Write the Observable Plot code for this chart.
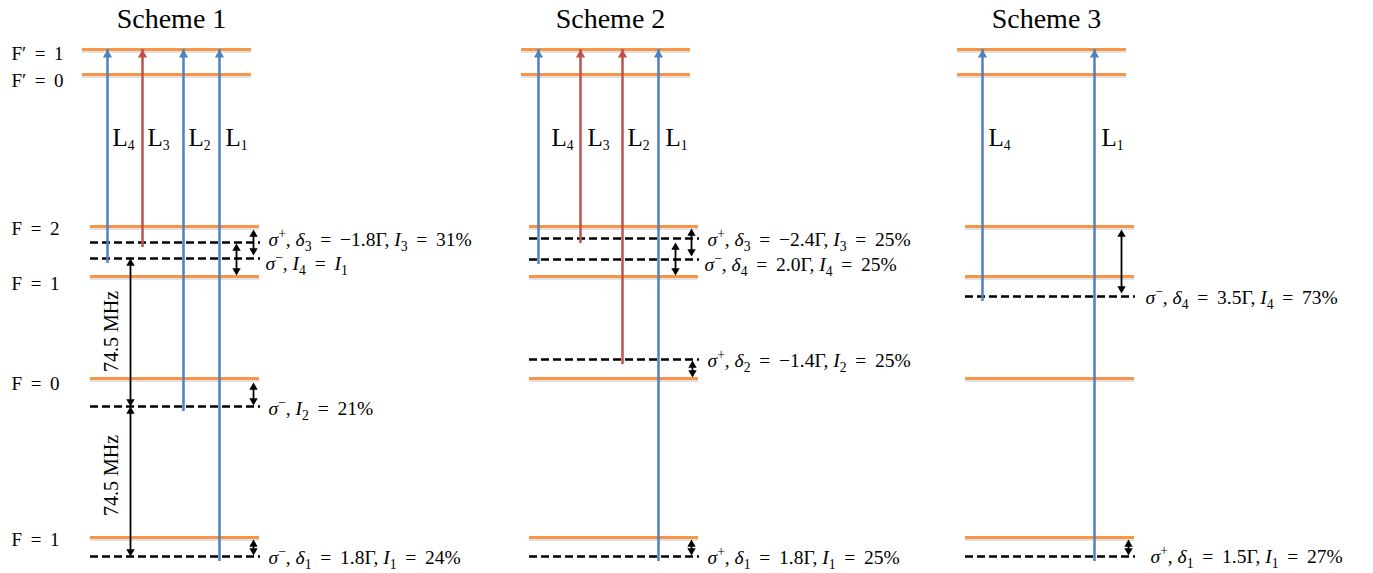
<!DOCTYPE html>
<html>
<head>
<meta charset="utf-8">
<script src="https://cdn.jsdelivr.net/npm/d3@7"></script>
<script src="https://cdn.jsdelivr.net/npm/@observablehq/plot@0.6"></script>
<style>
  html, body { margin: 0; padding: 0; background: #fff; }
  svg text, svg tspan { font-family: "Liberation Serif", "Times New Roman", "DejaVu Serif", serif !important; }
</style>
</head>
<body>
<div id="chart"></div>
<script>
// ---------- data (diagram units: x to the right, y downward) ----------
const schemeNames  = ["Scheme 1", "Scheme 2", "Scheme 3"];
const schemeTitleX = [171, 610, 1046];
const schemeTitleY = [19, 19, 19];
const schemeLeft   = [82, 521, 957];          // left end of the F′ levels

const levelNames   = ["F′ = 1", "F′ = 0", "F = 2", "F = 1", "F = 0", "F = 1"];
const levelY       = [49, 74, 226, 276, 378, 537];
const levelIndent  = [0, 0, 8, 8, 8, 8];
const levelLength  = 169;
const levelLabelX  = [11, 11, 11, 11, 11, 11];
const levelLabelY  = [53, 80, 228, 283, 383, 539];

// dashed virtual (detuned) levels
const dashScheme = [0, 0, 0, 0, 1, 1, 1, 1, 2, 2];
const dashY      = [242, 258, 406, 556, 238, 259, 359, 556, 296, 556];
const dashLength = 170;

// laser transitions (all end on F′ = 1)
const laserScheme = [0, 0, 0, 0, 1, 1, 1, 1, 2, 2];
const laserName   = ["L_4", "L_3", "L_2", "L_1", "L_4", "L_3", "L_2", "L_1", "L_4", "L_1"];
const laserKind   = ["A", "B", "A", "A", "A", "B", "B", "A", "A", "A"];
const laserX      = [107, 142, 183, 219, 538, 580, 622, 658, 982, 1094];
const laserFromY  = [258, 242, 406, 556, 259, 238, 359, 556, 296, 556];
const laserLabelX = [123, 158, 199, 236, 562, 598, 638, 676, 999, 1112];
const laserLabelY = [137, 137, 137, 137, 137, 137, 137, 137, 137, 137];

// detuning double arrows
const detX  = [253, 236, 253, 253, 691, 675, 692, 691, 1121, 1128];
const detY1 = [229, 243, 382, 539, 228, 242, 360, 539, 229, 539];
const detY2 = [255, 275, 405, 555, 256, 275, 377, 555, 293, 555];

// hyperfine splitting arrows
const gapX      = [130, 130];
const gapY1     = [258, 406];
const gapY2     = [406, 556];
const gapLabel  = ["74.5 MHz", "74.5 MHz"];
const gapLabelX = [111, 111];
const gapLabelY = [331, 475];

// polarisation / detuning / intensity annotations
const annText = [
  "σ^+, δ_3 = −1.8Γ, I_3 = 31%",
  "σ^−, I_4 = I_1",
  "σ^−, I_2 = 21%",
  "σ^−, δ_1 = 1.8Γ, I_1 = 24%",
  "σ^+, δ_3 = −2.4Γ, I_3 = 25%",
  "σ^−, δ_4 = 2.0Γ, I_4 = 25%",
  "σ^+, δ_2 = −1.4Γ, I_2 = 25%",
  "σ^+, δ_1 = 1.8Γ, I_1 = 25%",
  "σ^−, δ_4 = 3.5Γ, I_4 = 73%",
  "σ^+, δ_1 = 1.5Γ, I_1 = 27%"
];
const annX = [268, 265, 268, 268, 707, 704, 707, 707, 1145, 1150];
const annY = [239, 263, 408, 557, 239, 264, 360, 557, 297, 556];

// ---------- tables built from the arrays ----------
const levels = schemeLeft.flatMap((L) =>
  levelY.map((y, i) => ({y, x1: L + levelIndent[i], x2: L + levelIndent[i] + levelLength})));
const dashes = dashY.map((y, i) => ({y, x1: schemeLeft[dashScheme[i]] + 8, x2: schemeLeft[dashScheme[i]] + 8 + dashLength}));
const lasers = laserX.map((x, i) => ({x, y1: laserFromY[i], y2: levelY[0], kind: laserKind[i],
  name: laserName[i], lx: laserLabelX[i], ly: laserLabelY[i]}));
const dets = detX.map((x, i) => ({x, y1: detY1[i], y2: detY2[i]}));
const gaps = gapX.map((x, i) => ({x, y1: gapY1[i], y2: gapY2[i], label: gapLabel[i], lx: gapLabelX[i], ly: gapLabelY[i]}));
const titles = schemeNames.map((t, i) => ({t, x: schemeTitleX[i], y: schemeTitleY[i]}));
const levelLabels = levelNames.map((t, i) => ({t, x: levelLabelX[i], y: levelLabelY[i]}));
const anns = annText.map((t, i) => ({t, x: annX[i], y: annY[i]}));
const doubleArrows = [...dets, ...gaps];

// arrow-head geometry (filled triangle symbol, tip offset from centre)
const headR = 3.4, blackR = 3.1;
const tipOff = (r) => 2 * r * Math.sqrt(Math.PI / (3 * Math.sqrt(3)));

const serif = "Liberation Serif, Times New Roman, serif";

const chart = Plot.plot({
  width: 1373,
  height: 573,
  margin: 0,
  x: {domain: [0, 1373], range: [0, 1373], axis: null},
  y: {domain: [0, 573], range: [0, 573], axis: null},
  color: {type: "ordinal", domain: ["A", "B"], range: ["#4F81BD", "#C0504D"]},
  style: {background: "#fff"},
  marks: [
    // energy levels (with a faint shadow)
    Plot.ruleY(levels, {y: "y", x1: "x1", x2: "x2", stroke: "#d8d8d8", strokeWidth: 1.5, dy: 2.5}),
    Plot.ruleY(levels, {y: "y", x1: "x1", x2: "x2", stroke: "#F79646", strokeWidth: 3}),
    // detuned virtual levels
    Plot.ruleY(dashes, {y: "y", x1: "x1", x2: "x2", stroke: "#000", strokeWidth: 2.5, strokeDasharray: "8,4"}),
    // laser transitions
    Plot.ruleX(lasers, {x: "x", y1: "y1", y2: "y2", stroke: "kind", strokeWidth: 2.5, insetTop: 5}),
    Plot.dot(lasers, {x: "x", y: "y2", symbol: "triangle", r: headR, fill: "kind", stroke: null, dy: tipOff(headR)}),
    // double-headed black arrows
    Plot.ruleX(doubleArrows, {x: "x", y1: "y1", y2: "y2", stroke: "#000", strokeWidth: 1.8, insetTop: 4, insetBottom: 4}),
    Plot.dot(doubleArrows, {x: "x", y: "y1", symbol: "triangle", r: blackR, fill: "#000", stroke: null, dy: tipOff(blackR)}),
    Plot.dot(doubleArrows, {x: "x", y: "y2", symbol: "triangle", r: blackR, fill: "#000", stroke: null, rotate: 180, dy: -tipOff(blackR)}),
    // texts
    Plot.text(titles, {x: "x", y: "y", text: "t", fontSize: 28, fontFamily: serif, fill: "#000"}),
    Plot.text(levelLabels, {x: "x", y: "y", text: "t", fontSize: 19, fontFamily: serif, textAnchor: "start", fill: "#000"}),
    Plot.text(lasers, {x: "lx", y: "ly", text: "name", fontSize: 25, fontFamily: serif, fill: "#000"}),
    Plot.text(gaps, {x: "lx", y: "ly", text: "label", fontSize: 20, fontFamily: serif, rotate: -90, fill: "#000"}),
    Plot.text(anns, {x: "x", y: "y", text: "t", fontSize: 19.5, fontFamily: serif, textAnchor: "start", fill: "#000"})
  ]
});

// rich text: italic variables, sub/superscripts, wider math spacing around "="
d3.select(chart).selectAll("text").each(function () {
  const s = this.textContent;
  if (!/[\^_=]/.test(s)) return;
  const fs = parseFloat(getComputedStyle(this).fontSize) || 19;
  const parts = s.split(/(\^[+−]|_\d|[σδI]|=)/).filter((p) => p);
  this.textContent = "";
  let shift = 0;
  for (const p of parts) {
    let target = 0, txt = p, small = false, italic = false;
    if (p[0] === "^") { target = -0.42 * fs; txt = p.slice(1); small = true; }
    else if (p[0] === "_") { target = 0.25 * fs; txt = p.slice(1); small = true; }
    else if (/^[σδI]$/.test(p)) italic = true;
    else if (p === "=") txt = "\u2009=\u2009";
    const t = d3.select(this).append("tspan").text(txt);
    if (target !== shift) t.attr("dy", target - shift);
    shift = target;
    if (small) t.attr("font-size", (0.72 * fs).toFixed(1));
    if (italic) t.attr("font-style", "italic");
  }
});

document.getElementById("chart").appendChild(chart);
</script>
</body>
</html>
